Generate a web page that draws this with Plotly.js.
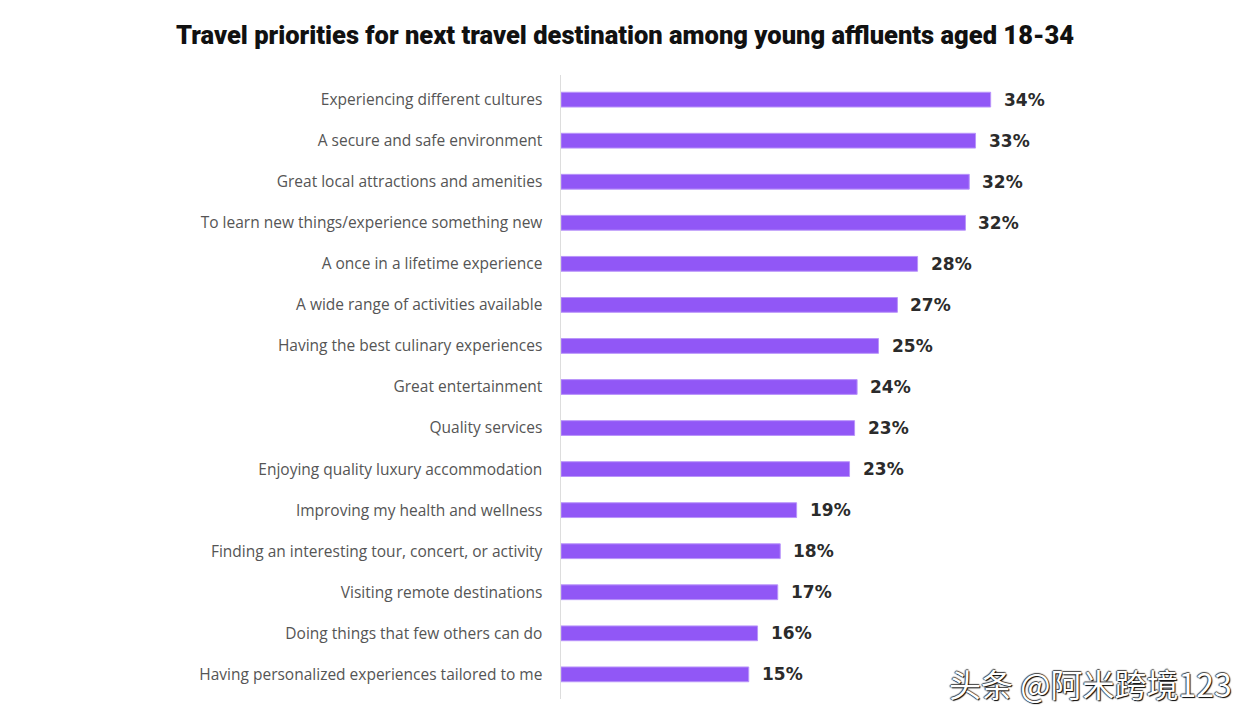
<!DOCTYPE html>
<html>
<head>
<meta charset="utf-8">
<script src="https://cdn.plot.ly/plotly-3.0.1.min.js"></script>
<style>html,body{margin:0;padding:0;background:#fff;}#chart{width:1255px;height:720px;}</style>
</head>
<body>
<div id="chart"></div>
<script>
const categories = [
  "Experiencing different cultures",
  "A secure and safe environment",
  "Great local attractions and amenities",
  "To learn new things/experience something new",
  "A once in a lifetime experience",
  "A wide range of activities available",
  "Having the best culinary experiences",
  "Great entertainment",
  "Quality services",
  "Enjoying quality luxury accommodation",
  "Improving my health and wellness",
  "Finding an interesting tour, concert, or activity",
  "Visiting remote destinations",
  "Doing things that few others can do",
  "Having personalized experiences tailored to me"
];
const values = [34.1, 32.9, 32.4, 32.1, 28.3, 26.7, 25.2, 23.5, 23.3, 22.9, 18.7, 17.4, 17.2, 15.6, 14.9];
const valueLabels = ["34%", "33%", "32%", "32%", "28%", "27%", "25%", "24%", "23%", "23%", "19%", "18%", "17%", "16%", "15%"];
const watermark = "头条 @阿米跨境123";

const trace = {
  type: 'bar',
  orientation: 'h',
  x: values,
  y: categories,
  marker: {color: '#9157F6', line: {color: '#B994FA', width: 1}},
  hoverinfo: 'none',
  width: 0.36
};

const annotations = values.map((v, i) => ({
  x: v, y: categories[i], xref: 'x', yref: 'y',
  text: valueLabels[i], showarrow: false,
  xanchor: 'left', yanchor: 'middle', xshift: 11,
  font: {family: '"DejaVu Sans", sans-serif', size: 17, color: '#2b2b2b', weight: 'bold'}
}));

annotations.push({
  xref: 'paper', yref: 'paper', x: 1.05, y: 0.026, xanchor: 'center', yanchor: 'middle',
  text: watermark, showarrow: false,
  font: {family: '"Noto Sans CJK SC", sans-serif', size: 32, color: '#ffffff', shadow: '1px 1px 1px #000, -1px 0 1px #444, 0 -1px 1px #444'}
});

const layout = {
  width: 1255, height: 720,
  paper_bgcolor: '#ffffff', plot_bgcolor: '#ffffff',
  margin: {l: 561, r: 190, t: 75, b: 21},
  title: {
    text: 'Travel priorities for next travel destination among young affluents aged 18-34',
    x: 0.498, xref: 'container', xanchor: 'center', y: 0.951, yanchor: 'middle',
    font: {family: 'Roboto, Arial, sans-serif', size: 25.5, color: '#111111', weight: 900}
  },
  xaxis: {range: [0, 40], visible: false, fixedrange: true},
  yaxis: {
    type: 'category', autorange: false, range: [14.6, -0.6],
    showline: true, linecolor: '#dddddd', linewidth: 1.5,
    showgrid: false, zeroline: false, ticks: '',
    ticklabelstandoff: 14,
    tickfont: {family: '"Open Sans", sans-serif', size: 15.5, color: '#555555'}
  },
  showlegend: false,
  annotations: annotations
};

Plotly.newPlot('chart', [trace], layout, {displayModeBar: false, staticPlot: true});
</script>
</body>
</html>
